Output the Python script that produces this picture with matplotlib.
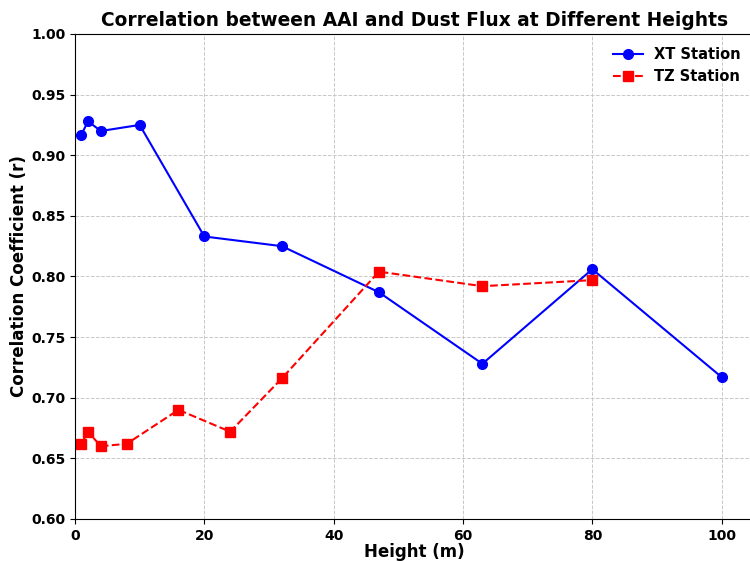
import numpy as np
import matplotlib
matplotlib.use("Agg")
import matplotlib.pyplot as plt

# heights (m) and correlation coefficients for each station
xt_height = [1, 2, 4, 10, 20, 32, 47, 63, 80, 100]
xt_r = [0.917, 0.928, 0.920, 0.925, 0.833, 0.825, 0.787, 0.728, 0.806, 0.717]

tz_height = [1, 2, 4, 8, 16, 24, 32, 47, 63, 80]
tz_r = [0.662, 0.672, 0.660, 0.662, 0.690, 0.672, 0.716, 0.804, 0.792, 0.797]

plt.rcParams['font.weight'] = 'bold'

fig = plt.figure(figsize=(7.5, 5.61), dpi=100)
ax = fig.add_axes([0.1, 0.0749, 0.9053, 0.8645])

ax.plot(xt_height, xt_r, color='blue', linestyle='-', marker='o', markersize=7,
        linewidth=1.5, label='XT Station')
ax.plot(tz_height, tz_r, color='red', linestyle='--', marker='s', markersize=7,
        linewidth=1.5, label='TZ Station')

ax.set_xlim(0, 105)
ax.set_ylim(0.60, 1.00)
ax.set_yticks(np.arange(0.60, 1.001, 0.05))
ax.set_xticks([0, 20, 40, 60, 80, 100])

ax.set_xlabel('Height (m)', fontsize=12, fontweight='bold', labelpad=0.5)
ax.set_ylabel('Correlation Coefficient (r)', fontsize=12, fontweight='bold', labelpad=2)
ax.set_title('Correlation between AAI and Dust Flux at Different Heights',
             fontsize=13.4, fontweight='bold')
ax.tick_params(labelsize=10)
for lbl in ax.get_xticklabels() + ax.get_yticklabels():
    lbl.set_fontweight('bold')

ax.grid(True, linestyle='--', color='#c8c8c8', linewidth=0.7)
ax.legend(loc='upper right', frameon=False, fontsize=10.5)

fig.savefig('out.png', dpi=100)
